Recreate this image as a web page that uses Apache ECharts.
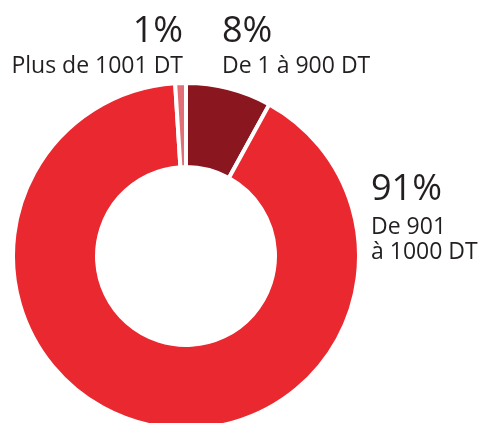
<!DOCTYPE html>
<html>
<head>
<meta charset="utf-8">
<script src="https://cdn.jsdelivr.net/npm/echarts@6/dist/echarts.min.js"></script>
<style>
  html, body { margin: 0; padding: 0; background: #fff; }
  #chart { width: 478px; height: 423px; }
</style>
</head>
<body>
<div id="chart"></div>
<script>
// tranches de montant (sens horaire depuis midi)
const categories = ['De 1 à 900 DT', 'De 901\nà 1000 DT', 'Plus de 1001 DT'];
const shares = [8, 91, 1];
const colors = ['#8a1620', '#e9282f', '#e26e77'];

// placement des étiquettes
const labelPos = [
  { x: 222, y: 9, align: 'left', bigLh: 45, smallLh: 24 },
  { x: 371, y: 165, align: 'left', bigLh: 50, smallLh: 25 },
  { x: 183, y: 9, align: 'right', bigLh: 45, smallLh: 24 }
];

function richFor(i) {
  const p = labelPos[i];
  return {
    big: {
      fontFamily: '"Open Sans", sans-serif',
      fontSize: 36,
      lineHeight: p.bigLh,
      color: '#231f20',
      align: p.align
    },
    small: {
      fontFamily: '"Open Sans", sans-serif',
      fontSize: 23,
      lineHeight: p.smallLh,
      color: '#231f20',
      align: p.align
    }
  };
}

const chart = echarts.init(document.getElementById('chart'));
chart.setOption({
  animation: false,
  series: [
    {
      type: 'pie',
      center: [186, 256],
      radius: [89, 173],
      startAngle: 90,
      clockwise: true,
      avoidLabelOverlap: false,
      emphasis: { disabled: true },
      itemStyle: { borderColor: '#fff', borderWidth: 4 },
      label: {
        show: true,
        formatter: (p) => `{big|${p.value}%}\n{small|${p.name}}`
      },
      labelLine: { show: false },
      labelLayout: (params) => {
        const p = labelPos[params.dataIndex];
        return { x: p.x, y: p.y, align: p.align, verticalAlign: 'top' };
      },
      data: shares.map((v, i) => ({
        value: v,
        name: categories[i],
        itemStyle: { color: colors[i] },
        label: { rich: richFor(i) }
      }))
    }
  ]
});
</script>
</body>
</html>
